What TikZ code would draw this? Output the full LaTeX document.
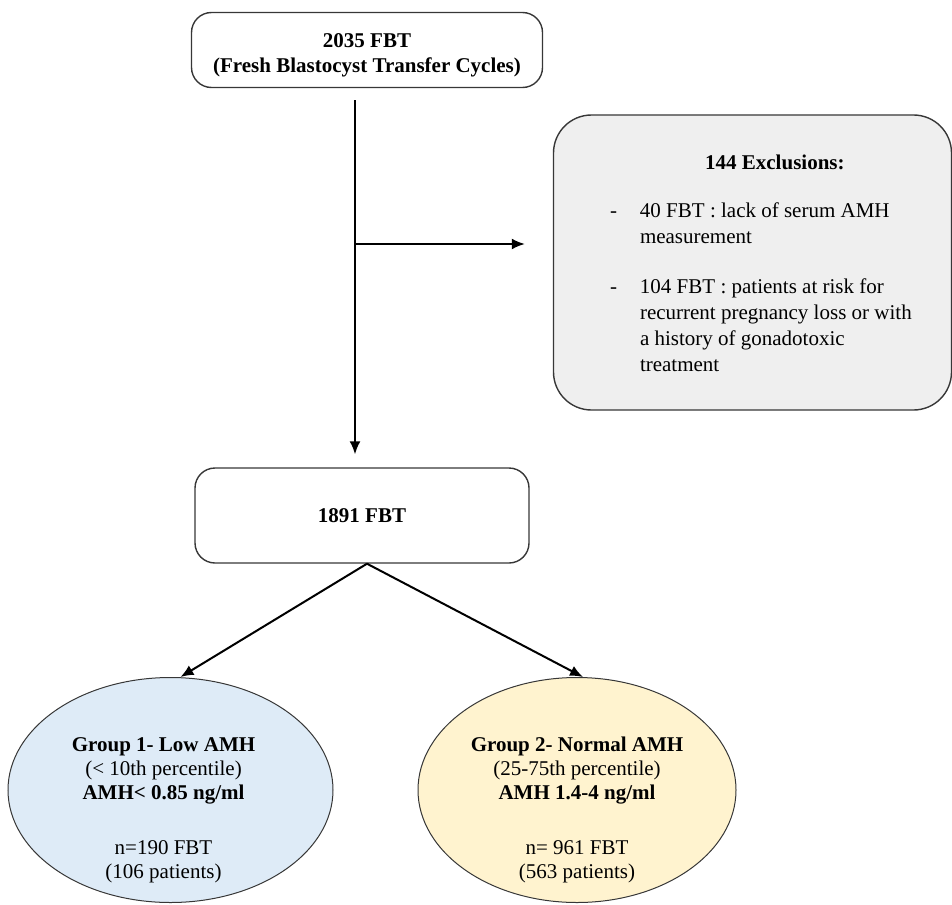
\documentclass[tikz,border=0pt]{standalone}
\usepackage{fontspec}
\setmainfont{Liberation Serif}
\usepackage{tikz}
\usetikzlibrary{arrows.meta,shapes.geometric}
\definecolor{lowblue}{RGB}{222,235,247}
\definecolor{normyellow}{RGB}{255,243,207}
\definecolor{exclgray}{RGB}{239,239,239}
\definecolor{edge}{RGB}{55,55,55}

\begin{document}
\begin{tikzpicture}[x=1pt,y=-1pt,
		box/.style={draw=edge,line width=1.4pt,rounded corners=20pt,align=center,font=\bfseries},
		group/.style={ellipse,draw=edge,line width=1pt,minimum height=225pt},
		grouptext/.style={align=center,inner sep=0pt,font=\fontsize{21}{24}\selectfont},
		arr/.style={draw,line width=2pt,-{Latex[length=13pt,width=11pt]}}]
		\fontsize{21}{25}\selectfont
		\useasboundingbox (0,0) rectangle (952,904);
		\node[box,minimum width=351pt,minimum height=75pt] (top) at (367,50) {\rule{0pt}{24pt}2035 FBT\\(Fresh Blastocyst Transfer Cycles)};
		\node[box,fill=exclgray,rounded corners=38pt,minimum width=398pt,minimum height=295pt] (excl) at (752.5,262.5) {};
		\node[anchor=west,inner sep=0pt] (excltext) at ([xshift=57pt,yshift=-3pt]excl.west) {%
			\fontsize{21}{26}\selectfont
			\begin{tabular}{@{}p{30pt}@{}l@{}}
				\multicolumn{2}{@{}c@{}}{\hspace{28pt}\textbf{144 Exclusions:}}\\[22pt]
				- & 40 FBT : lack of serum AMH\\
				  & measurement\\[24pt]
				- & 104 FBT : patients at risk for\\
				  & recurrent pregnancy loss or with\\
				  & a history of gonadotoxic\\
				  & treatment
			\end{tabular}};
		\node[box,minimum width=334pt,minimum height=95pt] (mid) at (362,515.5) {1891 FBT};
		\node[group,fill=lowblue,minimum width=325pt] (low) at (170.5,790) {};
		\node[grouptext] (lowtext) at ([xshift=-7pt,yshift=-20pt]low.center) {\textbf{Group 1- Low AMH}\\(< 10th percentile)\\\textbf{AMH< 0.85 ng/ml}\\[31pt]n=190 FBT\\(106 patients)};
		\node[group,fill=normyellow,minimum width=318pt] (normal) at (577,790) {};
		\node[grouptext] (normaltext) at ([yshift=-20pt]normal.center) {\textbf{Group 2- Normal AMH}\\(25-75th percentile)\\\textbf{AMH 1.4-4 ng/ml}\\[31pt]n= 961 FBT\\(563 patients)};
		\coordinate (split) at (355,244);
		\draw[arr,shorten <=12pt,shorten >=13pt] ([xshift=-12pt]top.south) -- ([xshift=-7pt]mid.north);
		\draw[arr] (split) -- ([xshift=-28pt]excl.west |- split);
		\draw[arr] ([xshift=5pt]mid.south) -- ([xshift=10pt]low.north);
		\draw[arr] ([xshift=5pt]mid.south) -- ([xshift=6pt]normal.north);
	\end{tikzpicture}
\end{document}
